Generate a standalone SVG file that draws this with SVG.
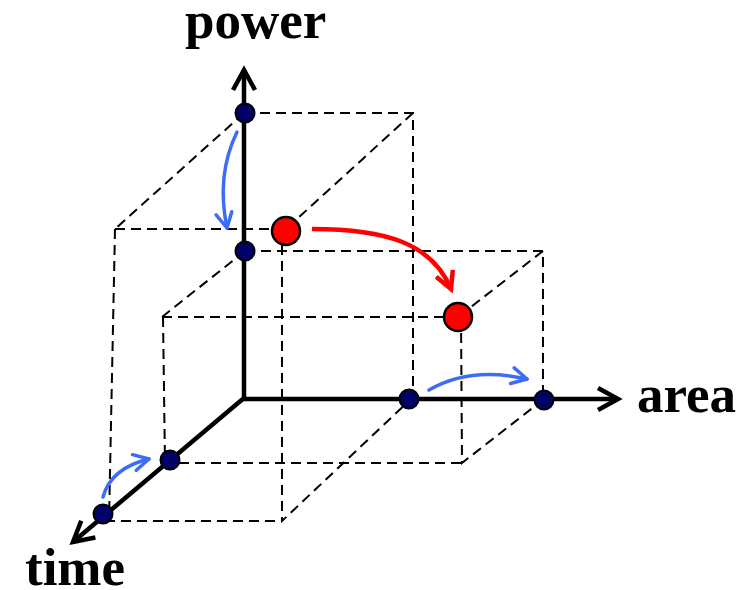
<svg xmlns="http://www.w3.org/2000/svg" width="750" height="590" viewBox="0 0 750 590">
<defs>
<style>
.dash{stroke:#000;stroke-width:2;stroke-dasharray:10 6;fill:none}
.axis{stroke:#000;stroke-width:4.5;fill:none}
.blue{stroke:#3b6ef5;stroke-width:3.5;fill:none;stroke-linecap:round}
.red{stroke:#ff0000;stroke-width:4.5;fill:none}
.bdot{fill:#000066;stroke:#000;stroke-width:2}
.rdot{fill:#ff0000;stroke:#000;stroke-width:2.5}
.lbl{font-family:"Liberation Serif","Times New Roman",serif;font-weight:bold;font-size:53px;fill:#000}
</style>
<marker id="ax" markerUnits="userSpaceOnUse" markerWidth="40" markerHeight="40" viewBox="-30 -20 40 40" refX="0" refY="0" orient="auto" overflow="visible">
<path d="M-20,-11 L0,0 L-20,11" fill="none" stroke="#000" stroke-width="4.5" stroke-linejoin="miter"/>
</marker>
<marker id="ab" markerUnits="userSpaceOnUse" markerWidth="30" markerHeight="30" viewBox="-20 -15 30 30" refX="0" refY="0" orient="auto" overflow="visible">
<path d="M-15,-8 L0,0 L-15,8" fill="none" stroke="#3b6ef5" stroke-width="3.5" stroke-linecap="round" stroke-linejoin="round"/>
</marker>
<marker id="ar" markerUnits="userSpaceOnUse" markerWidth="30" markerHeight="30" viewBox="-20 -15 30 30" refX="0" refY="0" orient="auto" overflow="visible">
<path d="M-17,-9 L0,0 L-17,9" fill="none" stroke="#ff0000" stroke-width="4.5" stroke-linejoin="miter"/>
</marker>
</defs>
<g id="connectors">
<g id="dashes">
<path class="dash" d="M244,113 L413,113 L413,398"/>
<path class="dash" d="M244,113 L115,229"/>
<path class="dash" d="M413,113 L286,229"/>
<path class="dash" d="M115,229 L286,229"/>
<path class="dash" d="M115,229 L109,521 L282,521"/>
<path class="dash" d="M282,229 L282,521 L411,399"/>
<path class="dash" d="M245,251 L543,251 L543,399"/>
<path class="dash" d="M245,251 L162,317"/>
<path class="dash" d="M543,251 L458,317"/>
<path class="dash" d="M162,317 L458,317"/>
<path class="dash" d="M163,317 L165,463 L462,463"/>
<path class="dash" d="M461,317 L462,463 L544,399"/>
</g>
<g id="axes">
<path class="axis" d="M244,398 L244,70" marker-end="url(#ax)"/>
<path class="axis" d="M242,399 L618,399" marker-end="url(#ax)"/>
<path class="axis" d="M244,398 L73,542" marker-end="url(#ax)"/>
</g>
<path class="blue" d="M237,132 Q216,175 227,228" marker-end="url(#ab)"/>
<path class="blue" d="M103,497 Q111,468 149,459" marker-end="url(#ab)"/>
<path class="blue" d="M429,390 Q470,366 527,379" marker-end="url(#ab)"/>
<path class="red" d="M312,229 C385,229 432,243 451,289" marker-end="url(#ar)"/>
</g>
<g id="dot-p1"><circle class="bdot" cx="245" cy="113" r="9.5"/></g>
<g id="dot-p2"><circle class="bdot" cx="245" cy="251" r="9.5"/></g>
<g id="dot-a1"><circle class="bdot" cx="409" cy="399" r="9.5"/></g>
<g id="dot-a2"><circle class="bdot" cx="544" cy="400" r="9.5"/></g>
<g id="dot-t1"><circle class="bdot" cx="170" cy="460" r="9.5"/></g>
<g id="dot-t2"><circle class="bdot" cx="103" cy="514" r="9.5"/></g>
<g id="red-1"><circle class="rdot" cx="286" cy="231" r="14"/></g>
<g id="red-2"><circle class="rdot" cx="458" cy="317" r="14"/></g>
<g id="label-power"><text class="lbl" x="185" y="38">power</text></g>
<g id="label-area"><text class="lbl" x="637" y="412">area</text></g>
<g id="label-time"><text class="lbl" x="25" y="585">time</text></g>
</svg>
